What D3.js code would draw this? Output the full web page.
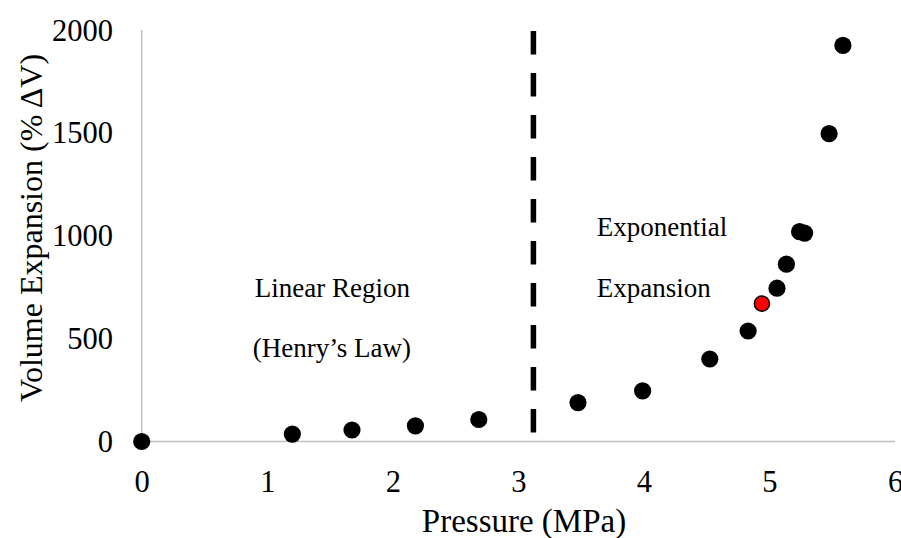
<!DOCTYPE html>
<html>
<head>
<meta charset="utf-8">
<script src="https://cdn.jsdelivr.net/npm/d3@7"></script>
<style>
  html, body { margin: 0; padding: 0; background: #fff; }
  svg { display: block; }
  text { font-family: "Liberation Serif", "Times New Roman", serif; fill: #000; }
</style>
</head>
<body>
<svg id="chart" width="901" height="538"></svg>
<script>
// Data
const pressure = [0, 1.2, 1.675, 2.18, 2.685, 3.475, 3.99, 4.525, 4.83, 5.06, 5.135, 5.24, 5.28, 5.475, 5.585];
const volume   = [0, 36, 56, 76, 107, 189, 246, 401, 537, 745, 862, 1020, 1013, 1496, 1925];
const highlightPressure = [4.94];
const highlightVolume = [670];
const xTicks = [0, 1, 2, 3, 4, 5, 6];
const yTicks = [0, 500, 1000, 1500, 2000];
const boundaryPressure = [3.12];
const annotations = [
  { text: "Linear Region", x: 0.9, y: 702 },
  { text: "(Henry\u2019s Law)", x: 0.885, y: 410 },
  { text: "Exponential", x: 3.625, y: 999 },
  { text: "Expansion", x: 3.625, y: 702 }
];

const svg = d3.select("#chart");
const x = d3.scaleLinear().domain([0, 6]).range([141.7, 895]);
const y = d3.scaleLinear().domain([0, 2000]).range([441.5, 30]);

// Axes lines
svg.append("line")
  .attr("x1", x(0)).attr("x2", x(0))
  .attr("y1", y(2000)).attr("y2", y(0))
  .attr("stroke", "#bfbfbf").attr("stroke-width", 1.5);
svg.append("line")
  .attr("x1", x(0)).attr("x2", x(6))
  .attr("y1", y(0)).attr("y2", y(0))
  .attr("stroke", "#bfbfbf").attr("stroke-width", 1.5);

// X tick labels
const xAxis = d3.axisBottom(x).tickValues(xTicks).tickSize(0).tickPadding(0).tickFormat(d3.format("d"));
const gx = svg.append("g").attr("transform", `translate(0,${y(0)})`).call(xAxis);
gx.select(".domain").remove();
gx.selectAll("text")
  .attr("y", 50).attr("dy", null)
  .style("font-family", "'Liberation Serif', serif")
  .style("font-size", "30.5px").attr("fill", "#000");

// Y tick labels
const yAxis = d3.axisLeft(y).tickValues(yTicks).tickSize(0).tickPadding(0).tickFormat(d3.format("d"));
const gy = svg.append("g").attr("transform", `translate(113,0)`).call(yAxis);
gy.select(".domain").remove();
gy.selectAll("text")
  .attr("x", 0).attr("dy", "0.33em")
  .style("font-family", "'Liberation Serif', serif")
  .style("font-size", "30.5px").attr("fill", "#000");

// Boundary dashed line
svg.selectAll(".boundary").data(boundaryPressure).enter().append("line")
  .attr("class", "boundary")
  .attr("x1", d => x(d)).attr("x2", d => x(d))
  .attr("y1", y(2000) + 1).attr("y2", y(0))
  .attr("stroke", "#000").attr("stroke-width", 5.5)
  .attr("stroke-dasharray", "23.5,18.5");

// Points
const pts = pressure.map((p, i) => ({ p, v: volume[i] }));
svg.selectAll(".pt").data(pts).enter().append("circle")
  .attr("class", "pt")
  .attr("cx", d => x(d.p)).attr("cy", d => y(d.v))
  .attr("r", 8.6).attr("fill", "#000");

const hpts = highlightPressure.map((p, i) => ({ p, v: highlightVolume[i] }));
svg.selectAll(".hpt").data(hpts).enter().append("circle")
  .attr("class", "hpt")
  .attr("cx", d => x(d.p)).attr("cy", d => y(d.v))
  .attr("r", 7.6).attr("fill", "#ff0000").attr("stroke", "#000").attr("stroke-width", 1.5);

// Annotations
svg.selectAll(".ann").data(annotations).enter().append("text")
  .attr("class", "ann")
  .attr("x", d => x(d.x)).attr("y", d => y(d.y))
  .style("font-size", "27px")
  .text(d => d.text);

// Axis titles
svg.append("text")
  .attr("x", 524).attr("y", 532)
  .attr("text-anchor", "middle")
  .style("font-size", "33px")
  .text("Pressure (MPa)");

svg.append("text")
  .attr("transform", "translate(42,228) rotate(-90)")
  .attr("text-anchor", "middle")
  .style("font-size", "32px")
  .text("Volume Expansion (%\u2009\u0394V)");
</script>
</body>
</html>
